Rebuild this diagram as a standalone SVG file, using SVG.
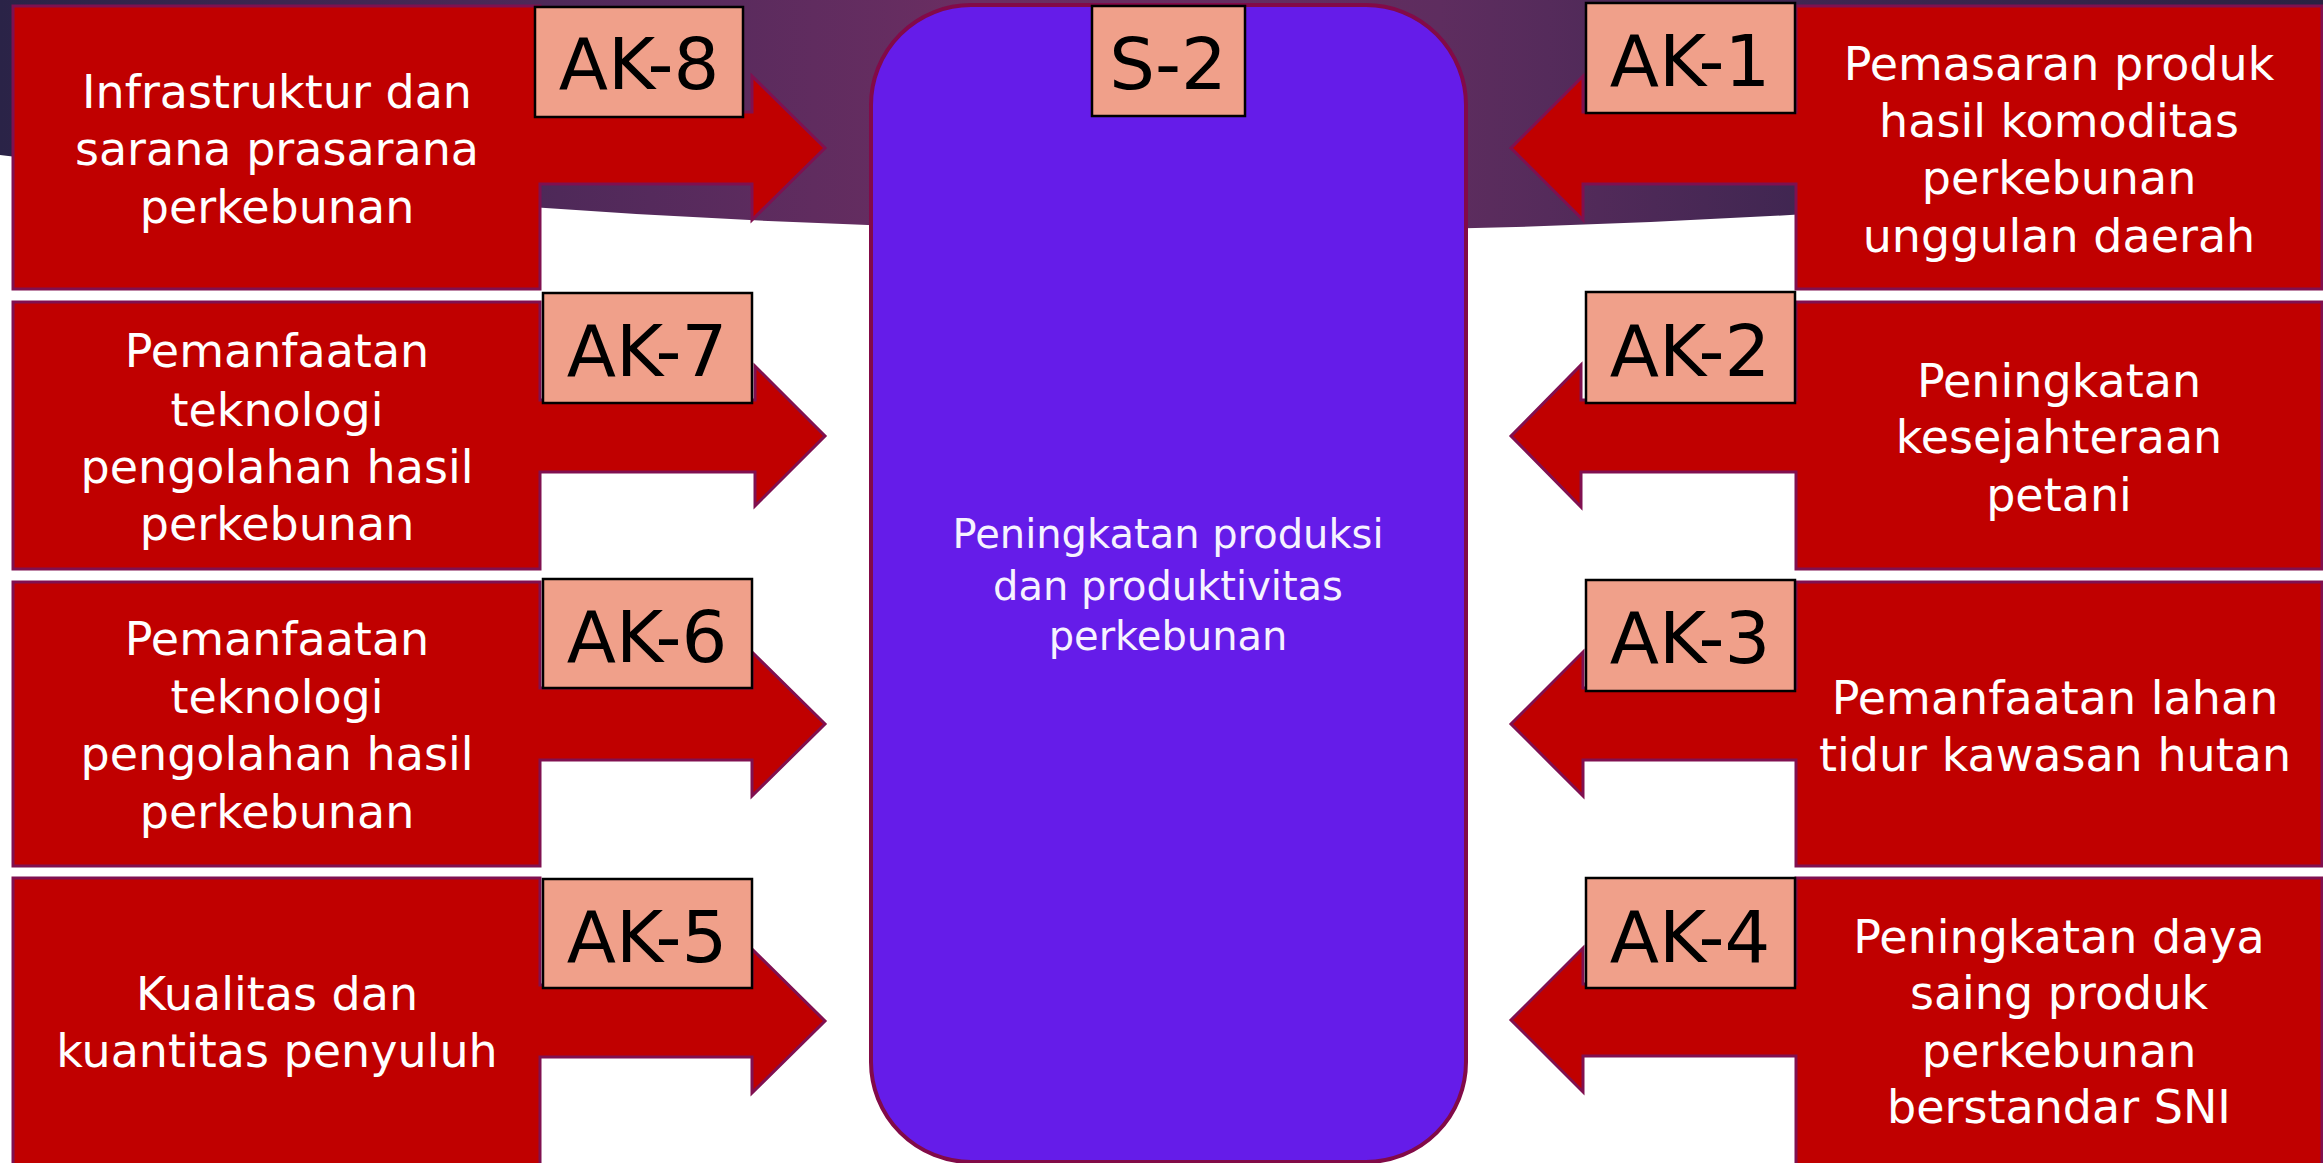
<svg xmlns="http://www.w3.org/2000/svg" width="2323" height="1163" viewBox="0 0 2323 1163">
<defs>
<linearGradient id="band" x1="0" y1="0" x2="1" y2="0">
<stop offset="0" stop-color="#2a2347"/>
<stop offset="0.28" stop-color="#552a5c"/>
<stop offset="0.42" stop-color="#6b2e62"/>
<stop offset="0.62" stop-color="#5e2d5f"/>
<stop offset="0.78" stop-color="#3f2651"/>
<stop offset="1" stop-color="#2a2242"/>
</linearGradient>
<style>
.node{fill:#c00000;stroke:#801050;stroke-width:3;stroke-linejoin:miter}
.tag{fill:#f0a08a;stroke:#000;stroke-width:2.5}
.tagt{font-family:"DejaVu Sans",sans-serif;font-size:72px;fill:#000;text-anchor:middle}
.txt{font-family:"DejaVu Sans",sans-serif;font-size:46px;fill:#fff;text-anchor:middle}
.ctxt{font-family:"DejaVu Sans",sans-serif;font-size:40px;fill:#f6f2ff;text-anchor:middle}
</style>
</defs>
<rect x="0" y="0" width="2323" height="1163" fill="#fff"/>
<path d="M0,0 H2323 V170 Q1150,300 0,155 Z" fill="url(#band)"/>
<g id="connectors"/>
<g id="center">
<rect x="871" y="5" width="595" height="1157" rx="100" ry="100" fill="#651ce9" stroke="#820a48" stroke-width="4"/>
<text class="ctxt" x="1168" y="548">Peningkatan produksi</text>
<text class="ctxt" x="1168" y="600">dan produktivitas</text>
<text class="ctxt" x="1168" y="650">perkebunan</text>
<rect class="tag" x="1092" y="6" width="153" height="110"/>
<text class="tagt" x="1168" y="89">S-2</text>
</g>
<g id="ak8">
<path class="node" d="M13,6 H540 V112 H752 V76 L825,148 L752,220 V184 H540 V289 H13 Z"/>
<text class="txt" x="277" y="108">Infrastruktur dan</text>
<text class="txt" x="277" y="165">sarana prasarana</text>
<text class="txt" x="277" y="223">perkebunan</text>
<rect class="tag" x="535" y="7" width="208" height="110"/>
<text class="tagt" x="639" y="89">AK-8</text>
</g>
<g id="ak7">
<path class="node" d="M13,302 H540 V400 H755 V366 L825,436 L755,506 V472 H540 V569 H13 Z"/>
<text class="txt" x="277" y="367">Pemanfaatan</text>
<text class="txt" x="277" y="426">teknologi</text>
<text class="txt" x="277" y="483">pengolahan hasil</text>
<text class="txt" x="277" y="540">perkebunan</text>
<rect class="tag" x="543" y="293" width="209" height="110"/>
<text class="tagt" x="647" y="376">AK-7</text>
</g>
<g id="ak6">
<path class="node" d="M13,582 H540 V688 H752 V652 L825,724 L752,796 V760 H540 V866 H13 Z"/>
<text class="txt" x="277" y="655">Pemanfaatan</text>
<text class="txt" x="277" y="713">teknologi</text>
<text class="txt" x="277" y="770">pengolahan hasil</text>
<text class="txt" x="277" y="828">perkebunan</text>
<rect class="tag" x="543" y="579" width="209" height="109"/>
<text class="tagt" x="647" y="662">AK-6</text>
</g>
<g id="ak5">
<path class="node" d="M13,878 H540 V985 H752 V949 L825,1021 L752,1093 V1057 H540 V1168 H13 Z"/>
<text class="txt" x="277" y="1010">Kualitas dan</text>
<text class="txt" x="277" y="1067">kuantitas penyuluh</text>
<rect class="tag" x="543" y="879" width="209" height="109"/>
<text class="tagt" x="647" y="962">AK-5</text>
</g>
<g id="ak1">
<path class="node" d="M2322,6 H1796 V112 H1583 V76 L1511,148 L1583,220 V184 H1796 V289 H2322 Z"/>
<text class="txt" x="2059" y="80">Pemasaran produk</text>
<text class="txt" x="2059" y="137">hasil komoditas</text>
<text class="txt" x="2059" y="194">perkebunan</text>
<text class="txt" x="2059" y="252">unggulan daerah</text>
<rect class="tag" x="1586" y="3" width="209" height="110"/>
<text class="tagt" x="1690" y="86">AK-1</text>
</g>
<g id="ak2">
<path class="node" d="M2322,302 H1796 V400 H1581 V365 L1511,436 L1581,507 V472 H1796 V569 H2322 Z"/>
<text class="txt" x="2059" y="397">Peningkatan</text>
<text class="txt" x="2059" y="453">kesejahteraan</text>
<text class="txt" x="2059" y="511">petani</text>
<rect class="tag" x="1586" y="292" width="209" height="111"/>
<text class="tagt" x="1690" y="376">AK-2</text>
</g>
<g id="ak3">
<path class="node" d="M2322,582 H1796 V688 H1583 V652 L1511,724 L1583,796 V760 H1796 V866 H2322 Z"/>
<text class="txt" x="2055" y="714">Pemanfaatan lahan</text>
<text class="txt" x="2055" y="771">tidur kawasan hutan</text>
<rect class="tag" x="1586" y="580" width="209" height="111"/>
<text class="tagt" x="1690" y="663">AK-3</text>
</g>
<g id="ak4">
<path class="node" d="M2322,878 H1796 V984 H1583 V948 L1511,1020 L1583,1092 V1056 H1796 V1168 H2322 Z"/>
<text class="txt" x="2059" y="953">Peningkatan daya</text>
<text class="txt" x="2059" y="1009">saing produk</text>
<text class="txt" x="2059" y="1067">perkebunan</text>
<text class="txt" x="2059" y="1123">berstandar SNI</text>
<rect class="tag" x="1586" y="878" width="209" height="110"/>
<text class="tagt" x="1690" y="962">AK-4</text>
</g>
</svg>
